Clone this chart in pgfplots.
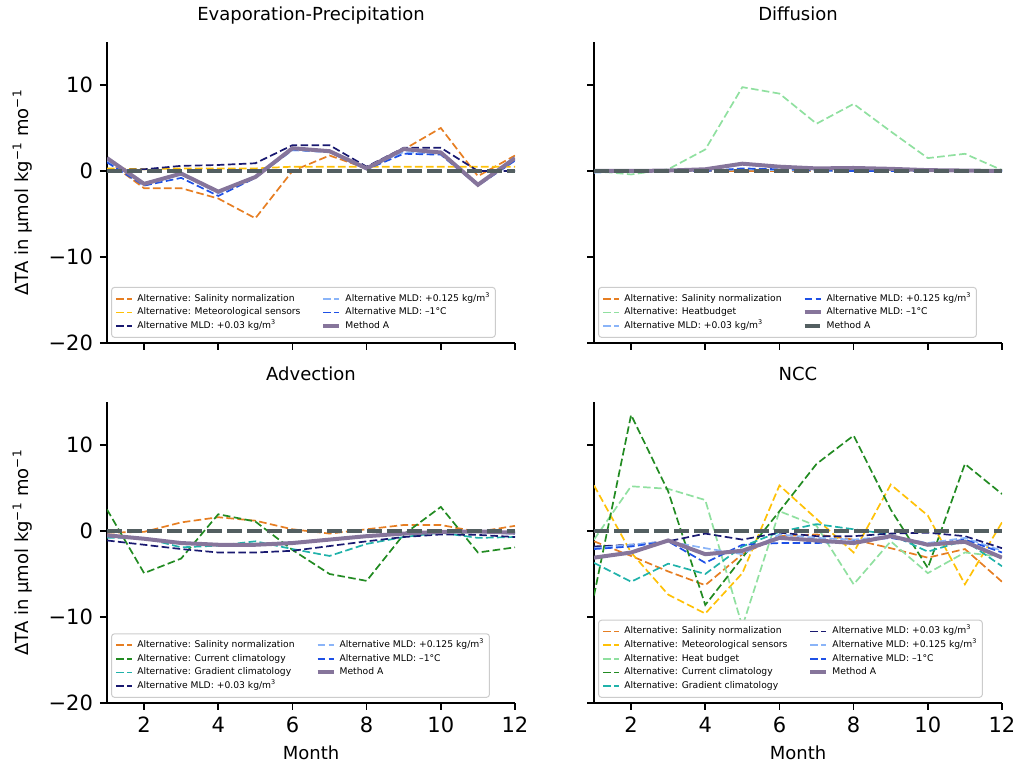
\documentclass[border=0pt]{standalone}
\usepackage{fontspec}
\setmainfont{DejaVu Sans}
\usepackage{pgfplots}
\usepackage{pgfplotstable}
\pgfplotsset{compat=1.18}

\definecolor{corange}{RGB}{230,126,34}
\definecolor{cyellow}{RGB}{255,193,7}
\definecolor{cnavy}{RGB}{25,25,112}
\definecolor{clblue}{RGB}{138,180,248}
\definecolor{cblue}{RGB}{30,80,230}
\definecolor{clgreen}{RGB}{144,224,160}
\definecolor{cgreen}{RGB}{34,139,34}
\definecolor{cteal}{RGB}{32,178,170}
\definecolor{cpurple}{RGB}{134,117,155}
\definecolor{cgrey}{RGB}{83,95,97}
\definecolor{legborder}{RGB}{204,204,204}

\newcommand\ticksize{\fontsize{10.5}{12.6}\selectfont}
\newcommand\labsize{\fontsize{9}{10.8}\selectfont}
\newcommand\legsize{\fontsize{4.6}{5.5}\selectfont}

\tikzset{
  alt/.style={line width=0.85pt, dash pattern=on 3.8pt off 1.7pt},
  meth/.style={line width=2pt, cpurple},
  zero/.style={line width=2pt, cgrey, dash pattern=on 7.5pt off 2.5pt},
}

\pgfplotsset{
  panel/.style={
    scale only axis, width=204pt, height=150.5pt,
    xmin=1, xmax=12, ymin=-20, ymax=15,
    axis x line=bottom, axis y line=left,
    axis line style={-, line width=0.8pt},
    xtick={2,4,6,8,10,12}, ytick={-20,-10,0,10},
    tick align=outside, major tick length=3.5pt,
    every tick/.style={black, line width=0.8pt},
    tick label style={font=\ticksize},
    title style={font=\labsize, at={(axis description cs:0.5,1.0299)}, anchor=base},
    xlabel style={font=\labsize, at={(axis description cs:0.5,-0.1877)}, anchor=base},
    ylabel style={font=\labsize, at={(axis description cs:-0.1912,0.5)}, anchor=base},
    legend style={font=\legsize, draw=legborder, line width=0.5pt, rounded corners=1.5pt,
      fill=white, at={(0.01,0.017)}, anchor=south west,
      inner xsep=2pt, inner ysep=3pt,
      nodes={inner sep=0.5pt, text height=3.4pt, text depth=1pt},
      row sep=1.4pt,
      /tikz/every odd column/.append style={column sep=1.5pt},
      /tikz/every even column/.append style={column sep=10pt}},
    legend columns=2, legend cell align=left,
    legend image code/.code={\draw[##1] (0pt,0pt) -- (8pt,0pt);},
  },
  leftlab/.style={yticklabels={−20,−10,0,10}, ylabel={ΔTA in µmol kg\textsuperscript{−1} mo\textsuperscript{−1}}},
  rightlab/.style={yticklabels={}},
  toplab/.style={xticklabels={}},
  botlab/.style={xticklabels={2,4,6,8,10,12}, xlabel={Month}},
}

% Evaporation-Precipitation
\pgfplotstableread{
m sal met mldA mldB mldC methA zero
1  1.2  0.3 0.1  1.2  1.0  1.5  0
2 -2.0  0.2 0.2 -1.4 -1.7 -1.5  0
3 -2.0  0.3 0.6 -0.3 -0.8 -0.3  0
4 -3.2  0.3 0.7 -2.6 -2.9 -2.4  0
5 -5.5  0.3 0.9 -0.7 -0.8 -0.7  0
6  0.0  0.5 3.0  2.4  2.5  2.65 0
7  1.8  0.5 3.0  2.2  2.2  2.3  0
8  0.3  0.5 0.5  0.4  0.2  0.3  0
9  2.5  0.5 2.7  2.2  2.0  2.55 0
10 5.0  0.5 2.7  2.0  1.9  2.15 0
11 -0.6 0.5 0.0 -1.5 -1.7 -1.6  0
12 1.8  0.5 0.0  1.3  1.2  1.5  0
}\tabEP

% Diffusion
\pgfplotstableread{
m sal heat mldA mldB purp zero
1  0.0  0.0 -0.2 -0.1 0.0  0
2  0.0 -0.4  0.0  0.0 0.0  0
3  0.0  0.2  0.0  0.0 0.05 0
4  0.0  2.5  0.0  0.0 0.2  0
5  0.0  9.75 0.2  0.3 0.85 0
6  0.0  9.0  0.1  0.2 0.5  0
7  0.0  5.5  0.0  0.1 0.3  0
8  0.0  7.8  0.0  0.0 0.35 0
9  0.0  4.6  0.0  0.0 0.25 0
10 0.0  1.5  0.0  0.0 0.1  0
11 0.0  2.0  0.0  0.0 0.05 0
12 0.0  0.1  0.0  0.0 0.0  0
}\tabDI

% Advection
\pgfplotstableread{
m sal cur grad mldA mldB mldC methA zero
1 -0.2  2.5 -0.8 -1.1  -0.6 -0.6 -0.5  0
2 -0.1 -4.9 -0.8 -1.6  -0.9 -0.9 -0.9  0
3  1.0 -3.2 -1.9 -2.1  -1.4 -1.4 -1.4  0
4  1.6  1.95 -1.7 -2.5 -1.6 -1.6 -1.6  0
5  1.2  1.1 -1.2 -2.5  -1.6 -1.6 -1.6  0
6  0.2 -2.2 -2.1 -2.3  -1.4 -1.4 -1.4  0
7 -0.3 -5.0 -2.9 -1.75 -1.0 -1.0 -1.0  0
8  0.2 -5.8 -1.5 -1.2  -0.6 -0.6 -0.6  0
9  0.7 -0.4 -0.7 -0.7  -0.3 -0.3 -0.3  0
10 0.7  2.8 -0.2 -0.4  -0.1 -0.1 -0.1  0
11 -0.1 -2.5 -0.8 -0.45 -0.1 -0.1 -0.05 0
12 0.6 -1.9 -0.7 -0.7  -0.3 -0.3 -0.2  0
}\tabAD

% NCC
\pgfplotstableread{
m sal met heat cur grad mldA mldB mldC methA zero
1 -1.2  5.3 -1.0 -7.5 -3.7 -1.8 -2.0 -2.1 -3.1  0
2 -2.9 -2.5  5.2 13.5 -5.9 -1.6 -1.6 -1.8 -2.5  0
3 -4.7 -7.4  4.9  4.6 -3.8 -1.2 -1.2 -1.2 -1.1  0
4 -6.3 -9.6  3.6 -8.6 -5.0 -0.3 -2.0 -3.7 -2.7  0
5 -2.7 -4.9 -11.1 -3.1 -1.8 -1.0 -2.7 -1.6 -2.3 0
6 -0.6  5.3  2.3  2.3 -0.1 -0.2 -0.4 -1.4 -0.8  0
7 -0.4  1.4  0.6  7.8  0.8 -0.6 -0.8 -1.4 -1.1  0
8 -1.0 -2.5 -6.2 11.1  0.2 -0.6 -1.0 -1.2 -1.4  0
9 -2.0  5.4 -1.2  2.5 -0.4 -0.3 -0.6 -0.8 -0.6  0
10 -3.1 1.8 -4.9 -4.3 -2.4 -0.2 -1.4 -1.6 -1.6  0
11 -2.1 -6.2 -2.5  7.8 -1.1 -0.6 -0.8 -1.0 -1.25 0
12 -5.9 1.0 -3.0  4.3 -4.1 -2.0 -2.3 -2.5 -3.1  0
}\tabNC

\begin{document}
\begin{tikzpicture}
\useasboundingbox (0,0) rectangle (507pt,380.5pt);

% ---------- Evaporation-Precipitation ----------
\begin{axis}[panel, leftlab, toplab, at={(53.5pt,209pt)}, anchor=south west,
  title={Evaporation-Precipitation}]
\addplot[alt, corange, forget plot] table[x=m,y=sal]{\tabEP};
\addplot[alt, cyellow, forget plot] table[x=m,y=met]{\tabEP};
\addplot[alt, cnavy, forget plot] table[x=m,y=mldA]{\tabEP};
\addplot[alt, clblue, forget plot] table[x=m,y=mldB]{\tabEP};
\addplot[alt, cblue, forget plot] table[x=m,y=mldC]{\tabEP};
\addplot[meth, forget plot] table[x=m,y=methA]{\tabEP};
\addplot[zero, forget plot] table[x=m,y=zero]{\tabEP};
\addlegendimage{alt, corange}\addlegendentry{Alternative: Salinity normalization}
\addlegendimage{alt, clblue}\addlegendentry{Alternative MLD: +0.125 kg/m\textsuperscript{3}}
\addlegendimage{alt, cyellow}\addlegendentry{Alternative: Meteorological sensors}
\addlegendimage{alt, cblue}\addlegendentry{Alternative MLD: –1°C}
\addlegendimage{alt, cnavy}\addlegendentry{Alternative MLD: +0.03 kg/m\textsuperscript{3}}
\addlegendimage{meth}\addlegendentry{Method A}
\end{axis}

% ---------- Diffusion ----------
\begin{axis}[panel, rightlab, toplab, at={(297pt,209pt)}, anchor=south west,
  title={Diffusion}]
\addplot[alt, corange, forget plot] table[x=m,y=sal]{\tabDI};
\addplot[alt, clgreen, forget plot] table[x=m,y=heat]{\tabDI};
\addplot[alt, clblue, forget plot] table[x=m,y=mldA]{\tabDI};
\addplot[alt, cblue, forget plot] table[x=m,y=mldB]{\tabDI};
\addplot[meth, forget plot] table[x=m,y=purp]{\tabDI};
\addplot[zero, forget plot] table[x=m,y=zero]{\tabDI};
\addlegendimage{alt, corange}\addlegendentry{Alternative: Salinity normalization}
\addlegendimage{alt, cblue}\addlegendentry{Alternative MLD: +0.125 kg/m\textsuperscript{3}}
\addlegendimage{alt, clgreen}\addlegendentry{Alternative: Heatbudget}
\addlegendimage{meth}\addlegendentry{Alternative MLD: –1°C}
\addlegendimage{alt, clblue}\addlegendentry{Alternative MLD: +0.03 kg/m\textsuperscript{3}}
\addlegendimage{zero}\addlegendentry{Method A}
\end{axis}

% ---------- Advection ----------
\begin{axis}[panel, leftlab, botlab, at={(53.5pt,29pt)}, anchor=south west,
  title={Advection}]
\addplot[alt, corange, forget plot] table[x=m,y=sal]{\tabAD};
\addplot[alt, cgreen, forget plot] table[x=m,y=cur]{\tabAD};
\addplot[alt, cteal, forget plot] table[x=m,y=grad]{\tabAD};
\addplot[alt, cnavy, forget plot] table[x=m,y=mldA]{\tabAD};
\addplot[alt, clblue, forget plot] table[x=m,y=mldB]{\tabAD};
\addplot[alt, cblue, forget plot] table[x=m,y=mldC]{\tabAD};
\addplot[meth, forget plot] table[x=m,y=methA]{\tabAD};
\addplot[zero, forget plot] table[x=m,y=zero]{\tabAD};
\addlegendimage{alt, corange}\addlegendentry{Alternative: Salinity normalization}
\addlegendimage{alt, clblue}\addlegendentry{Alternative MLD: +0.125 kg/m\textsuperscript{3}}
\addlegendimage{alt, cgreen}\addlegendentry{Alternative: Current climatology}
\addlegendimage{alt, cblue}\addlegendentry{Alternative MLD: –1°C}
\addlegendimage{alt, cteal}\addlegendentry{Alternative: Gradient climatology}
\addlegendimage{meth}\addlegendentry{Method A}
\addlegendimage{alt, cnavy}\addlegendentry{Alternative MLD: +0.03 kg/m\textsuperscript{3}}
\addlegendimage{empty legend}\addlegendentry{}
\end{axis}

% ---------- NCC ----------
\begin{axis}[panel, rightlab, botlab, at={(297pt,29pt)}, anchor=south west,
  title={NCC}]
\addplot[alt, corange, forget plot] table[x=m,y=sal]{\tabNC};
\addplot[alt, cyellow, forget plot] table[x=m,y=met]{\tabNC};
\addplot[alt, clgreen, forget plot] table[x=m,y=heat]{\tabNC};
\addplot[alt, cgreen, forget plot] table[x=m,y=cur]{\tabNC};
\addplot[alt, cteal, forget plot] table[x=m,y=grad]{\tabNC};
\addplot[alt, cnavy, forget plot] table[x=m,y=mldA]{\tabNC};
\addplot[alt, clblue, forget plot] table[x=m,y=mldB]{\tabNC};
\addplot[alt, cblue, forget plot] table[x=m,y=mldC]{\tabNC};
\addplot[meth, forget plot] table[x=m,y=methA]{\tabNC};
\addplot[zero, forget plot] table[x=m,y=zero]{\tabNC};
\addlegendimage{alt, corange}\addlegendentry{Alternative: Salinity normalization}
\addlegendimage{alt, cnavy}\addlegendentry{Alternative MLD: +0.03 kg/m\textsuperscript{3}}
\addlegendimage{alt, cyellow}\addlegendentry{Alternative: Meteorological sensors}
\addlegendimage{alt, clblue}\addlegendentry{Alternative MLD: +0.125 kg/m\textsuperscript{3}}
\addlegendimage{alt, clgreen}\addlegendentry{Alternative: Heat budget}
\addlegendimage{alt, cblue}\addlegendentry{Alternative MLD: –1°C}
\addlegendimage{alt, cgreen}\addlegendentry{Alternative: Current climatology}
\addlegendimage{meth}\addlegendentry{Method A}
\addlegendimage{alt, cteal}\addlegendentry{Alternative: Gradient climatology}
\addlegendimage{empty legend}\addlegendentry{}
\end{axis}
\end{tikzpicture}
\end{document}
